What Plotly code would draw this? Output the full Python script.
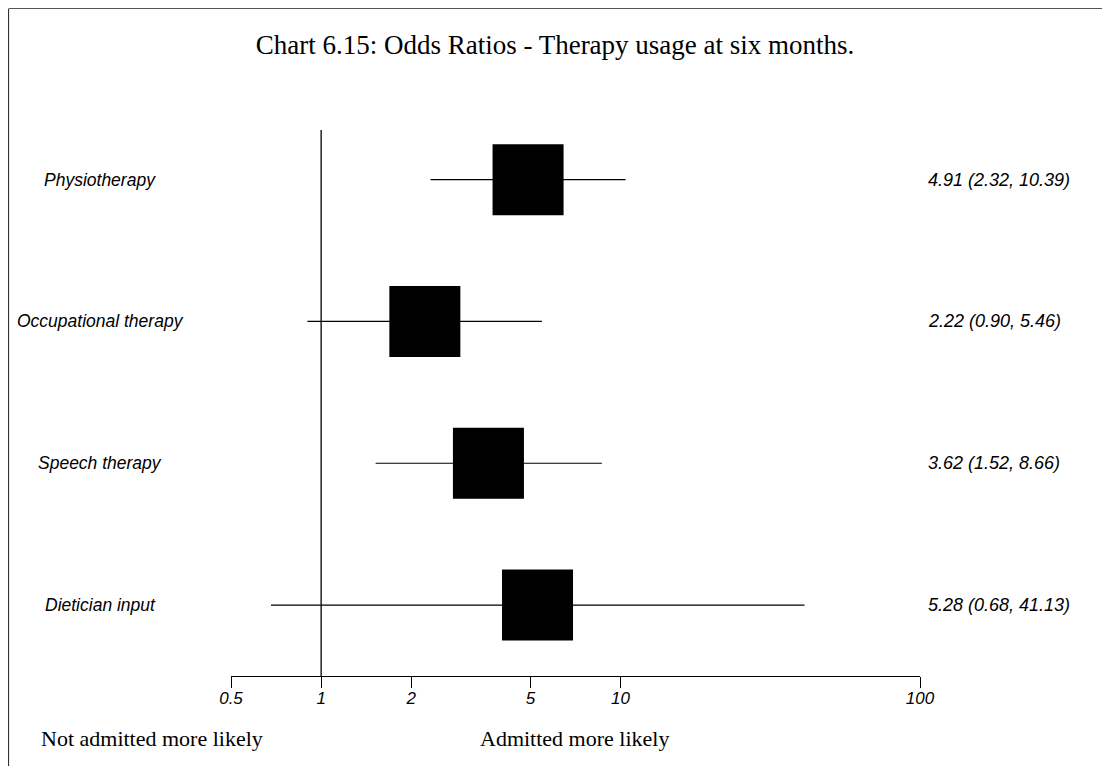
import numpy as np
import plotly.graph_objects as go

# odds ratios with 95% CI, top to bottom
therapies = ["Physiotherapy", "Occupational therapy", "Speech therapy", "Dietician input"]
odds_ratio = [4.91, 2.22, 3.62, 5.28]
ci_low = [2.32, 0.90, 1.52, 0.68]
ci_high = [10.39, 5.46, 8.66, 41.13]

tick_vals = [0.5, 1, 2, 5, 10, 100]
tick_text = ["0.5", "1", "2", "5", "10", "100"]

rows = list(range(len(therapies), 0, -1))  # 4, 3, 2, 1

# page body adds an 8px margin, so work in reference pixels minus 8
OFF = 8
W, H = 1110 - OFF, 766 - OFF
ML, MR, MT = 231 - OFF, 1110 - 920, 130 - OFF
MB = H - (676 - OFF)
pw = W - ML - MR
ph = H - MT - MB


def px_x(p):
    return (p - OFF - ML) / pw


def px_y(p):
    return (H - MB - (p - OFF)) / ph


fig = go.Figure()

# reference line at OR = 1
fig.add_trace(go.Scatter(x=[1, 1], y=[0.5, 4.35], mode="lines",
                         line=dict(color="black", width=1.3),
                         hoverinfo="skip", showlegend=False))

# confidence intervals
for r, lo, hi in zip(rows, ci_low, ci_high):
    fig.add_trace(go.Scatter(x=[lo, hi], y=[r, r], mode="lines",
                             line=dict(color="black", width=1.2),
                             hoverinfo="skip", showlegend=False))

# point estimates
fig.add_trace(go.Scatter(x=odds_ratio, y=rows, mode="markers",
                         marker=dict(symbol="square", size=71, color="black",
                                     line=dict(width=0)),
                         showlegend=False))

label_font = dict(family="Liberation Sans", size=17.5, color="black", style="italic")
annotations = []
for r, name, o, lo, hi in zip(rows, therapies, odds_ratio, ci_low, ci_high):
    annotations.append(dict(x=px_x(100), y=r, xref="paper", yref="y", text=name,
                            showarrow=False, xanchor="center", yanchor="middle",
                            font=label_font))
    annotations.append(dict(x=px_x(926), y=r, xref="paper", yref="y",
                            text=f"{o:.2f} ({lo:.2f}, {hi:.2f})",
                            showarrow=False, xanchor="left", yanchor="middle",
                            font=dict(label_font, size=18)))

bottom_font = dict(family="Liberation Serif", size=22, color="black")
annotations.append(dict(x=px_x(152), y=px_y(738), xref="paper", yref="paper",
                        text="Not admitted more likely", showarrow=False,
                        xanchor="center", yanchor="middle", font=bottom_font))
annotations.append(dict(x=px_x(574), y=px_y(738), xref="paper", yref="paper",
                        text="Admitted more likely", showarrow=False,
                        xanchor="center", yanchor="middle", font=bottom_font))

# page frame (left and top edges)
shapes = [
    dict(type="line", xref="paper", yref="paper", x0=px_x(8.5), x1=px_x(8.5),
         y0=px_y(9), y1=px_y(766), line=dict(color="#333333", width=1.2)),
    dict(type="line", xref="paper", yref="paper", x0=px_x(8.5), x1=px_x(1110),
         y0=px_y(8.5), y1=px_y(8.5), line=dict(color="#555555", width=1.2)),
]

fig.update_layout(
    width=W, height=H,
    margin=dict(l=ML, r=MR, t=MT, b=MB),
    paper_bgcolor="white", plot_bgcolor="white",
    title=dict(text="Chart 6.15: Odds Ratios - Therapy usage at six months.",
               x=px_x(555), xref="paper", xanchor="center",
               y=1 - (45 - OFF) / H, yanchor="middle",
               font=dict(family="Liberation Serif", size=27, color="black")),
    xaxis=dict(type="log", range=[np.log10(0.5), np.log10(100)],
               tickvals=tick_vals, ticktext=tick_text,
               showgrid=False, zeroline=False,
               showline=True, linecolor="black", linewidth=1.2,
               ticks="outside", ticklen=11, tickwidth=1.2, tickcolor="black",
               ticklabelstandoff=-5,
               tickfont=dict(family="Liberation Sans", size=17, color="black",
                             style="italic")),
    yaxis=dict(range=[0.5, 4.35], showgrid=False, zeroline=False,
               showticklabels=False, showline=False),
    annotations=annotations,
    shapes=shapes,
    showlegend=False,
)

fig.write_html("out.html")
